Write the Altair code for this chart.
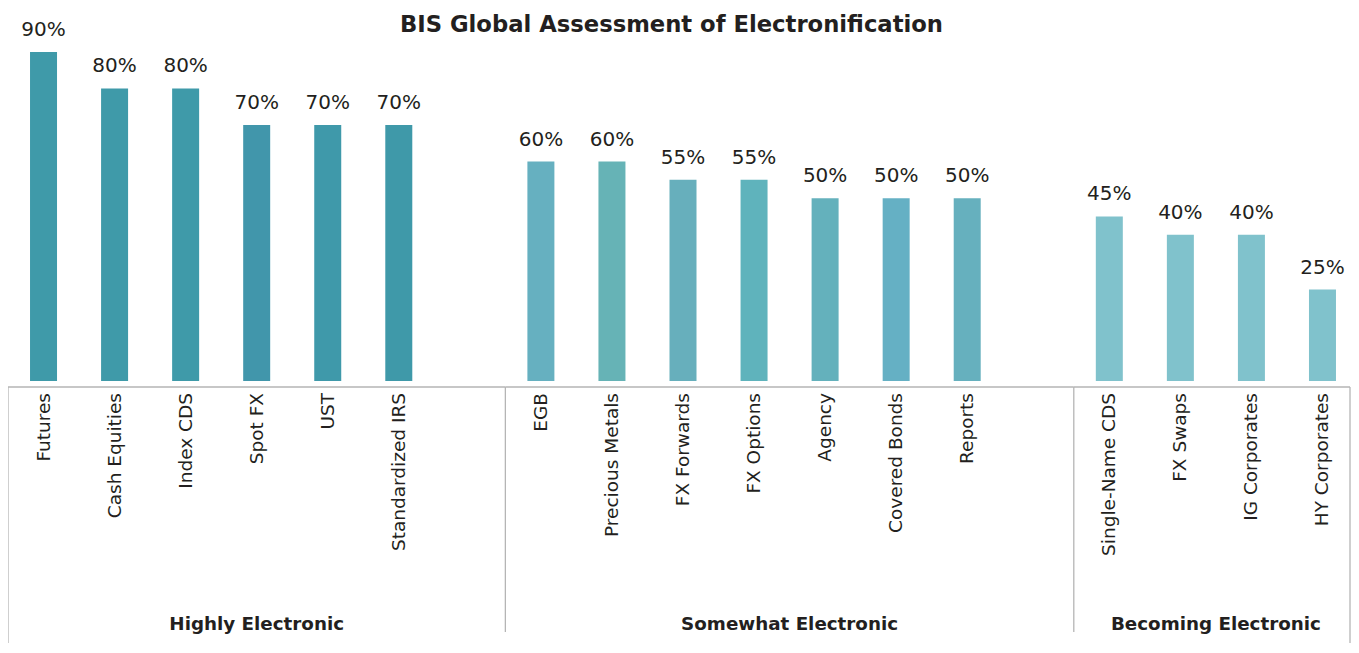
import altair as alt
import pandas as pd

# ---- data ----
categories = ["Futures", "Cash Equities", "Index CDS", "Spot FX", "UST", "Standardized IRS",
              "EGB", "Precious Metals", "FX Forwards", "FX Options", "Agency", "Covered Bonds", "Reports",
              "Single-Name CDS", "FX Swaps", "IG Corporates", "HY Corporates"]
values = [90, 80, 80, 70, 70, 70, 60, 60, 55, 55, 50, 50, 50, 45, 40, 40, 25]
group_names = ["Highly Electronic", "Somewhat Electronic", "Becoming Electronic"]
group_sizes = [6, 7, 4]
bar_colors = ["#3f9aa9", "#3f9aa9", "#3f9aa9", "#4196ab", "#3f99aa", "#3f99a9",
              "#66b0c0", "#66b3b6", "#67afbc", "#5fb3bc", "#64b1bc", "#65b0c4", "#66b0be",
              "#80c2cc", "#80c2cc", "#80c2cc", "#80c2cc"]
title_text = "BIS Global Assessment of Electronification"

FONT = "DejaVu Sans"
TEXT = "#231f20"
LINE = "#b5b5b5"

# ---- build tables (one empty slot between groups) ----
rows = []
groups = []
i = 0
for g, (gname, n) in enumerate(zip(group_names, group_sizes)):
    first = i + g
    for k in range(n):
        rows.append({"category": categories[i], "value": values[i], "zero": 0, "slot": i + g,
                     "color": bar_colors[i], "label": f"{values[i]}%"})
        i += 1
    last = i - 1 + g
    end = last + (1.5 if g < len(group_names) - 1 else 0.5)
    groups.append({"group": gname, "start": first - 0.5, "end": end, "mid": (first - 0.5 + end) / 2})

df = pd.DataFrame(rows)
gdf = pd.DataFrame(groups)

# the page is only 1343px wide inside its margins: the right frame edge is pulled in slightly
W, H = 1342, 373
PAD_BOTTOM = 262
slot_px = 1350 / 19.0
xmax = -0.5 + W / slot_px
gdf.loc[gdf.index[-1], "end"] = xmax
bvals = [-0.5] + [float(v) for v in gdf["end"]]
seps = pd.DataFrame({"b": bvals[1:-1]})
edges = pd.DataFrame({"b": [bvals[0], bvals[-1]]})

xs = alt.Scale(domain=[-0.5, xmax], nice=False, zero=False, padding=0)
ys = alt.Scale(domain=[0, 102], nice=False, padding=0)

base = alt.Chart(df)

bars = base.mark_bar(width=27).encode(
    x=alt.X("slot:Q", scale=xs, axis=None),
    y=alt.Y("value:Q", scale=ys, axis=None),
    color=alt.Color("color:N", scale=None),
)

val_labels = base.mark_text(font=FONT, fontSize=20, color=TEXT, baseline="alphabetic", dy=-16).encode(
    x=alt.X("slot:Q", scale=xs, axis=None), y=alt.Y("value:Q", scale=ys, axis=None), text="label:N"
)

cat_labels = base.mark_text(font=FONT, fontSize=18.5, color=TEXT, angle=270, align="right",
                            baseline="middle", dx=-12).encode(
    x=alt.X("slot:Q", scale=xs, axis=None), y=alt.Y("zero:Q", scale=ys, axis=None), text="category:N"
)

baseline = alt.Chart(gdf).mark_rule(color=LINE, strokeWidth=1.3).encode(
    x=alt.X("start:Q", scale=xs, axis=None), x2="end:Q", y=alt.value(379)
)

sep_rules = alt.Chart(seps).mark_rule(color=LINE, strokeWidth=1.3).encode(
    x=alt.X("b:Q", scale=xs, axis=None), y=alt.value(379), y2=alt.value(624)
)
edge_rules = alt.Chart(edges).mark_rule(color=LINE, strokeWidth=1.3).encode(
    x=alt.X("b:Q", scale=xs, axis=None), y=alt.value(379), y2=alt.value(H + PAD_BOTTOM)
)

group_labels = alt.Chart(gdf).mark_text(font=FONT, fontSize=18.3, fontWeight="bold", color=TEXT,
                                        baseline="alphabetic").encode(
    x=alt.X("mid:Q", scale=xs, axis=None), y=alt.value(622), text="group:N"
)

title = alt.Chart(pd.DataFrame({"t": [title_text]})).mark_text(
    font=FONT, fontSize=22.7, fontWeight="bold", color=TEXT, baseline="alphabetic"
).encode(x=alt.value(663.5), y=alt.value(24), text="t:N")

chart = alt.layer(
    baseline, sep_rules, edge_rules, bars, val_labels, cat_labels, group_labels, title
).properties(
    width=W, height=H,
    autosize=alt.AutoSizeParams(type="none"),
    padding={"left": 0, "top": 0, "right": 1, "bottom": PAD_BOTTOM},
).configure_view(stroke=None)

chart.save("out.html", embed_options={"renderer": "svg", "actions": False})
